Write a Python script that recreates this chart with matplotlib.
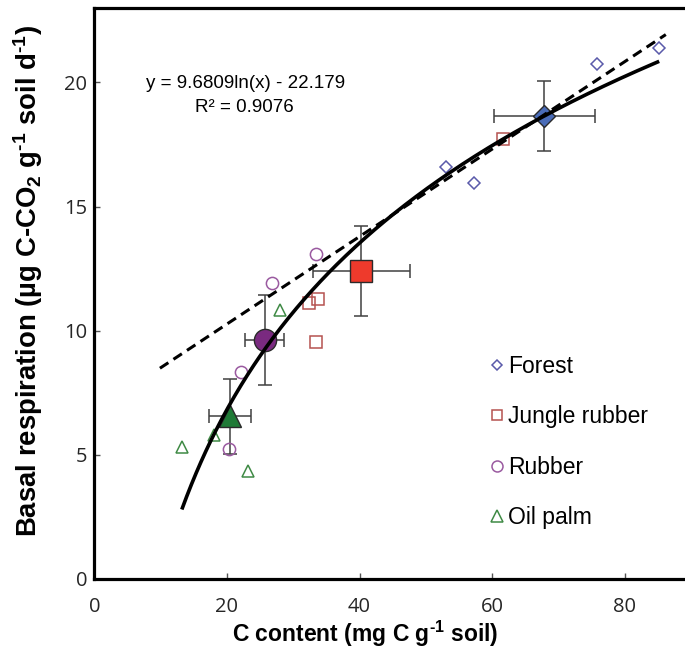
import numpy as np
import matplotlib
matplotlib.use("Agg")
import matplotlib.pyplot as plt
from matplotlib.lines import Line2D

plt.rcParams['font.family'] = ['Liberation Sans', 'DejaVu Sans']
plt.rcParams['mathtext.default'] = 'regular'

# ---- data ----
forest_x = [53.1, 57.3, 75.8, 85.1]
forest_y = [16.59, 15.95, 20.75, 21.38]
jungle_x = [32.4, 33.8, 33.4, 61.7]
jungle_y = [11.13, 11.27, 9.55, 17.73]
rubber_x = [33.5, 26.8, 22.2, 20.3]
rubber_y = [13.10, 11.92, 8.34, 5.22]
oil_x = [27.96, 18.1, 13.3, 23.2]
oil_y = [10.85, 5.79, 5.32, 4.36]

# means with standard errors: Forest, Jungle rubber, Rubber, Oil palm
mean_x = [67.9, 40.3, 25.7, 20.5]
mean_y = [18.64, 12.41, 9.62, 6.55]
err_x = [7.6, 7.25, 2.95, 3.2]
err_y = [1.4, 1.81, 1.8, 1.52]

# logarithmic trend (from the equation shown) and linear trend end points
log_a, log_b = 9.6809, -22.179
log_range = [13.2, 85.2]
lin_x = [9.9, 86.2]
lin_y = [8.49, 21.93]

labels = ['Forest', 'Jungle rubber', 'Rubber', 'Oil palm']
markers = ['D', 's', 'o', '^']
edge_cols = ['#5a5aaa', '#b5524f', '#9a5aa0', '#3f8a45']
fill_cols = ['#4a6cb8', '#ee3a2c', '#7a2a80', '#1f7a36']
small_sizes = [6.2, 8.2, 8.8, 8.8]
big_sizes = [11.0, 15.5, 16.0, 15.5]

fig = plt.figure(figsize=(6.85, 6.5), dpi=100)
ax = fig.add_axes([94.3 / 685, 71 / 650, (685 - 94.3) / 685, 571 / 650])

# error bars
ax.errorbar(mean_x, mean_y, xerr=err_x, yerr=err_y, fmt='none', ecolor='#404040',
            elinewidth=1.1, capsize=5, capthick=1.1, zorder=2)

# small points
groups = [(forest_x, forest_y), (jungle_x, jungle_y), (rubber_x, rubber_y), (oil_x, oil_y)]
handles = []
for i, (gx, gy) in enumerate(groups):
    ax.plot(gx, gy, linestyle='none', marker=markers[i], markersize=small_sizes[i],
            markerfacecolor='none', markeredgecolor=edge_cols[i], markeredgewidth=1.1, zorder=3)
    handles.append(Line2D([], [], linestyle='none', marker=markers[i], markersize=small_sizes[i] * 0.9,
                          markerfacecolor='none', markeredgecolor=edge_cols[i], markeredgewidth=1.1))

# big mean markers
for i in range(4):
    ax.plot([mean_x[i]], [mean_y[i]], linestyle='none', marker=markers[i], markersize=big_sizes[i],
            markerfacecolor=fill_cols[i], markeredgecolor='#2a2a2a', markeredgewidth=1.0, zorder=4)

# trend lines
xs = np.linspace(log_range[0], log_range[1], 300)
ax.plot(xs, log_a * np.log(xs) + log_b, color='black', lw=2.6, zorder=5, solid_capstyle='butt')
ax.plot(lin_x, lin_y, color='black', lw=2.2, linestyle=(0, (3.3, 2.0)), zorder=5)

ax.set_xlim(0, (685 - 94.3) / 6.63)
ax.set_ylim(0, 23)
ax.set_xticks([0, 20, 40, 60, 80])
ax.set_yticks([0, 5, 10, 15, 20])

for side in ['left', 'bottom', 'top']:
    ax.spines[side].set_linewidth(2.3)
    ax.spines[side].set_color('black')
ax.spines['right'].set_visible(False)

ax.tick_params(direction='in', length=4, width=1.0, color='#555555',
               labelsize=14.5, labelcolor='#262626')
ax.tick_params(axis='x', pad=13)
ax.tick_params(axis='y', pad=5)
for lab in ax.get_xticklabels() + ax.get_yticklabels():
    lab.set_family(['Open Sans', 'DejaVu Sans'])

hy = '\u2010'
ax.set_xlabel('C content (mg C g$^{' + hy + '1}$ soil)', fontsize=16.5, fontweight='bold')
ax.xaxis.set_label_coords((365 - 94.3) / 590.7, -(634 - 579) / 571)
ax.xaxis.label.set_va('center')
ax.set_ylabel('Basal respiration (µg C-CO$_2$ g$^{' + hy + '1}$ soil d$^{' + hy + '1}$)',
              fontsize=19.8, fontweight='bold')
ax.yaxis.set_label_coords((28 - 94.3) / 590.7, (579 - 281) / 571)
ax.yaxis.label.set_va('center')
ax.yaxis.label.set_ha('center')

ax.text((246 - 94.3) / 590.7, (579 - 84) / 571, 'y = 9.6809ln(x) - 22.179', transform=ax.transAxes,
        ha='center', va='center', fontsize=13.5)
ax.text((244 - 94.3) / 590.7, (579 - 108) / 571, 'R² = 0.9076', transform=ax.transAxes,
        ha='center', va='center', fontsize=13.5)

leg = ax.legend(handles, labels, loc='center left', bbox_to_anchor=((490 - 94.3) / 590.7, (579 - 442) / 571),
                frameon=False, fontsize=16.5, handlelength=0.6, handletextpad=0.2,
                labelspacing=1.2, borderpad=0, borderaxespad=0)

fig.savefig('out.png', dpi=100)
